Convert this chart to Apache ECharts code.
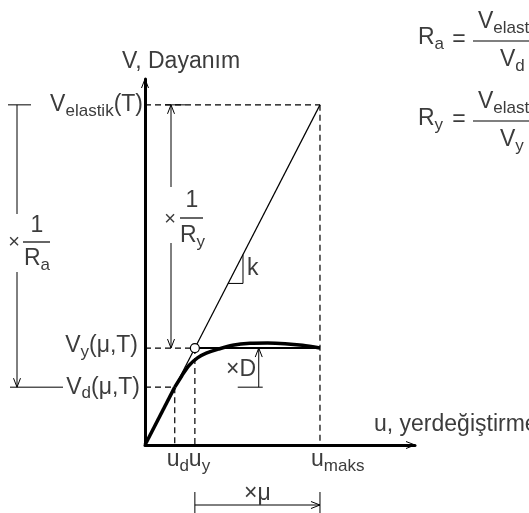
<!DOCTYPE html>
<html>
<head>
<meta charset="utf-8">
<script src="https://cdn.jsdelivr.net/npm/echarts@6/dist/echarts.min.js"></script>
<style>
  html, body { margin: 0; padding: 0; background: #fff; }
  #chart { width: 529px; height: 513px; }
</style>
</head>
<body>
<div id="chart"></div>
<script>
// displacement levels (u) and strength levels (V), elastic slope k = 1
const dispLabels = ['u_d', 'u_y', 'u_maks']
const dispValues = [1.7, 2.85, 10]
const levelLabels = ['V_elastik', 'V_y', 'V_d']
const levelValues = [10, 2.85, 1.7]
// capacity curve V(u): straight up to V_d, then rounded into the plateau
const curveU = [0, 1.7, 2.1, 2.5, 3.0, 3.5, 4.2, 5.0, 6.0, 7.0, 8.0, 9.0, 10]
const curveV = [0, 1.7, 2.03, 2.33, 2.56, 2.7, 2.82, 2.93, 2.99, 3.0, 2.98, 2.93, 2.85]
// small slope triangle on the elastic line
const slopeTri = [4.75, 5.6]

const X_MAX = 15.43
const Y_MAX = 10.76
const FONT = 'Liberation Sans'
const INK = '#3c3c3c'

const [uD, uY, uMax] = dispValues
const [vEl, vY, vD] = levelValues

const RICH = {
  b: { fontFamily: FONT, fontSize: 23, lineHeight: 30, fill: INK, color: INK },
  s: { fontFamily: FONT, fontSize: 17, lineHeight: 16, verticalAlign: 'bottom', fill: INK, color: INK }
}

function renderItem (params, api) {
  const c = (u, v) => api.coord([u, v])
  const kids = []
  const line = (a, b, w, dash) => kids.push({
    type: 'line',
    shape: { x1: a[0], y1: a[1], x2: b[0], y2: b[1] },
    style: { stroke: '#000', lineWidth: w || 1, lineDash: dash || null }
  })
  // open chevron arrow head, (dx, dy) = direction it points to
  const arrow = (tip, dx, dy) => {
    const L = 9, W = 3.5
    const bx = tip[0] - dx * L, by = tip[1] - dy * L
    line([bx - dy * W, by + dx * W], tip, 1)
    line([bx + dy * W, by - dx * W], tip, 1)
  }
  const text = (x, y, str, opt) => kids.push({
    type: 'text', x: x, y: y,
    style: Object.assign({
      text: str, fill: INK, fontFamily: FONT, fontSize: 23,
      align: 'left', verticalAlign: 'middle', rich: RICH
    }, opt || {})
  })
  const dash = [6, 4]

  const O = c(0, 0)
  const E = c(uMax, vEl)
  const yEl = E[1], yY = c(0, vY)[1], yD = c(0, vD)[1]

  // axis arrow heads
  arrow(c(0, Y_MAX), 0, -1)
  arrow(c(X_MAX, 0), 1, 0)

  // elastic line and dashed guides
  line(O, E, 1.2)
  line(c(0, vEl), E, 1.2, dash)
  line(E, c(uMax, 0), 1.2, dash)
  line(c(0, vY), c(uY, vY), 1.2, dash)
  line(c(uY, vY), c(uY, 0), 1.2, dash)
  line(c(0, vD), c(uD, vD), 1.2, dash)
  line(c(uD, vD), c(uD, 0), 1.2, dash)
  // idealised plateau
  line(c(uY, vY), c(uMax, vY), 2)

  // slope triangle
  const [ta, tb] = slopeTri
  line(c(ta, ta), c(tb, ta), 1)
  line(c(tb, ta), c(tb, tb), 1)
  text(c(tb, 0)[0] + 4, (c(0, ta)[1] + c(0, tb)[1]) / 2, 'k')

  // x1/Ry dimension
  const rx = 171
  line([rx, yEl], [rx, 187], 1)
  line([rx, 243], [rx, yY], 1)
  line([165, yEl], [185, yEl], 1)
  arrow([rx, yEl], 0, -1)
  arrow([rx, yY], 0, 1)
  text(170, 219, '×', { align: 'center', fontSize: 20 })
  text(192, 201, '1', { align: 'center' })
  line([180, 218], [203, 218], 1.2)
  text(180, 236, '{b|R}{s|y}')

  // x1/Ra dimension
  const ax = 17
  line([ax, yEl], [ax, 214], 1)
  line([ax, 272], [ax, yD], 1)
  line([8, yEl], [31, yEl], 1)
  line([10, yD], [63, yD], 1)
  arrow([ax, yD], 0, 1)
  text(14, 242, '×', { align: 'center', fontSize: 20 })
  text(37, 226, '1', { align: 'center' })
  line([23, 242], [50, 242], 1.2)
  text(24, 259, '{b|R}{s|a}')

  // xD dimension
  const dx = c(6.5, 0)[0]
  line([dx - 21, yD], [dx + 4, yD], 1)
  line([dx, yD], [dx, yY], 1)
  arrow([dx, yY], 0, -1)
  text(226, 370, '×D')

  // x mu dimension
  const mA = c(uY, 0)[0], mB = c(uMax, 0)[0]
  line([mA, 492], [mA, 513], 1)
  line([mB, 492], [mB, 513], 1)
  line([mA, 505], [mB, 505], 1)
  arrow([mB, 505], 1, 0)
  text((mA + mB) / 2, 494, '×μ', { align: 'center' })

  // yield point
  const P = c(uY, vY)
  kids.push({ type: 'circle', shape: { cx: P[0], cy: P[1], r: 4.5 }, style: { fill: '#fff', stroke: '#000', lineWidth: 1.2 } })

  // axis titles and level labels
  text(122, 62, 'V, Dayanım')
  text(374, 425, 'u, yerdeğiştirme')
  text(O[0] - 2, yEl, '{b|V}{s|elastik}{b|(T)}', { align: 'right' })
  text(O[0] - 7, yY - 2, '{b|V}{s|y}{b|(μ,T)}', { align: 'right' })
  text(O[0] - 5, yD, '{b|V}{s|d}{b|(μ,T)}', { align: 'right' })
  text(c(uD, 0)[0] - 8, 460, '{b|u}{s|d}')
  text(c(uY, 0)[0] - 6, 460, '{b|u}{s|y}')
  text(c(uMax, 0)[0] - 9, 460, '{b|u}{s|maks}')

  // ratio formulas
  text(418, 38, '{b|R}{s|a}')
  text(459, 40, '=', { align: 'center' })
  line([473, 41], [529, 41], 1.2)
  text(478, 22, '{b|V}{s|elastik}')
  text(500, 60, '{b|V}{s|d}')
  text(418, 119, '{b|R}{s|y}')
  text(459, 120, '=', { align: 'center' })
  line([473, 121], [529, 121], 1.2)
  text(478, 102, '{b|V}{s|elastik}')
  text(500, 140, '{b|V}{s|y}')

  return { type: 'group', children: kids }
}

const pts = curveU.map((u, i) => [u, curveV[i]])
const curveStyle = { color: '#000', width: 3.5 }
const chart = echarts.init(document.getElementById('chart'))
const hidden = { axisTick: { show: false }, axisLabel: { show: false }, splitLine: { show: false } }
chart.setOption({
  animation: false,
  grid: { left: 145, top: 79, right: 114, bottom: 68 },
  xAxis: Object.assign({ type: 'value', min: 0, max: X_MAX,
    axisLine: { onZero: false, lineStyle: { color: '#000', width: 3 } } }, hidden),
  yAxis: Object.assign({ type: 'value', min: 0, max: Y_MAX,
    axisLine: { onZero: false, lineStyle: { color: '#000', width: 3 } } }, hidden),
  series: [
    {
      type: 'line',
      data: pts.slice(0, 2),
      symbol: 'none',
      clip: false,
      z: 2,
      lineStyle: curveStyle
    },
    {
      type: 'line',
      data: pts.slice(1),
      smooth: 0.3,
      symbol: 'none',
      clip: false,
      z: 2,
      lineStyle: curveStyle
    },
    {
      type: 'custom',
      renderItem: renderItem,
      data: [[0, 0]],
      clip: false,
      silent: true,
      z: 3
    }
  ]
})
</script>
</body>
</html>
